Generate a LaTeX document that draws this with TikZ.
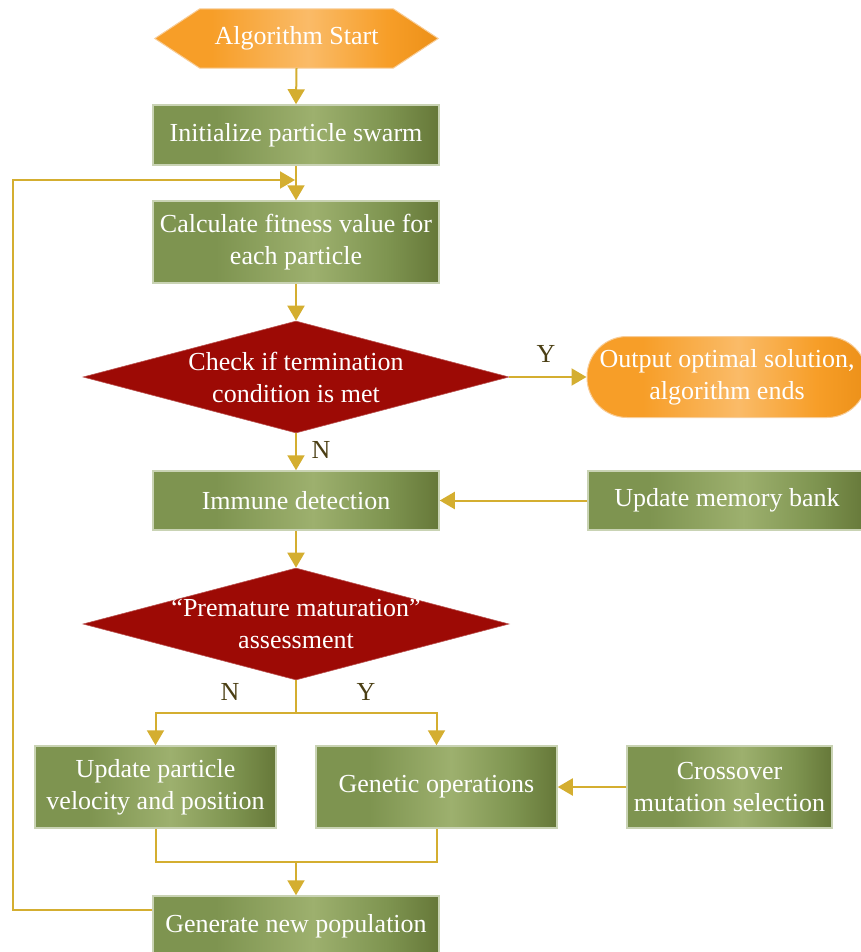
\documentclass[tikz,border=0pt]{standalone}
\usepackage{fontspec}
\setmainfont{Liberation Serif}
\usetikzlibrary{arrows.meta,shapes.geometric,backgrounds}
\definecolor{arr}{HTML}{D4AE30}
\definecolor{gA}{HTML}{7E9450}
\definecolor{gB}{HTML}{9DB06E}
\definecolor{gC}{HTML}{667839}
\definecolor{gE}{HTML}{C9D3B4}
\definecolor{oA}{HTML}{F79E28}
\definecolor{oB}{HTML}{FABB68}
\definecolor{oC}{HTML}{EC9018}
\definecolor{oE}{HTML}{F8CD98}
\definecolor{dred}{HTML}{9D0A05}
\definecolor{lab}{HTML}{4B3F14}
\pgfdeclarehorizontalshading{gshade}{100bp}{color(0bp)=(gA); color(25bp)=(gA); color(36bp)=(gA); color(53bp)=(gB); color(66bp)=(gA); color(75bp)=(gC); color(100bp)=(gC)}
\pgfdeclarehorizontalshading{oshade}{100bp}{color(0bp)=(oA); color(25bp)=(oA); color(35bp)=(oA); color(52bp)=(oB); color(66bp)=(oA); color(75bp)=(oC); color(100bp)=(oC)}
\tikzset{
  txt/.style={text=white, font=\fontsize{26}{32}\selectfont, align=center, inner sep=0pt},
  gbox/.style={txt, rectangle, shading=gshade, draw=gE, line width=1.5pt},
  dia/.style={diamond, fill=dred, draw=dred!70!white, line width=0.6pt, inner sep=0pt, minimum width=426pt, minimum height=112pt},
  arrow/.style={draw=arr, line width=2pt, -{Triangle[width=17pt,length=15pt]}},
  plain/.style={draw=arr, line width=2pt},
  lbl/.style={text=lab, font=\fontsize{26}{32}\selectfont, inner sep=0pt}
}
\begin{document}
\begin{tikzpicture}[x=1pt,y=-1pt]
\useasboundingbox (0,0) rectangle (861,952);
% start hexagon
\node[txt, minimum width=283pt, minimum height=59pt] (start) at (296.5,38.5) {Algorithm Start};
\begin{scope}[on background layer]
\path[shading=oshade, draw=oE, line width=1pt] (start.west) -- ([xshift=45pt]start.north west) -- ([xshift=-45pt]start.north east) -- (start.east) -- ([xshift=-45pt]start.south east) -- ([xshift=45pt]start.south west) -- cycle;
\end{scope}
\node[gbox, minimum width=286pt, minimum height=60pt] (init) at (296,135) {Initialize particle swarm};
\node[gbox, minimum width=286pt, minimum height=82pt] (calc) at (296,242) {Calculate fitness value for\\each particle};
\node[dia] (d1) at (296,377) {};
\node[txt] at (d1) {Check if termination\\condition is met};
\node[txt, rectangle, rounded corners=40pt, shading=oshade, draw=oE, line width=1pt, minimum width=280pt, minimum height=81pt] (out) at (727,377) {Output optimal solution,\\algorithm ends};
\node[gbox, minimum width=286pt, minimum height=59pt] (imm) at (296,500.5) {Immune detection};
\node[gbox, minimum width=278pt, minimum height=59pt] (mem) at (727,500.5) {Update memory bank};
\node[dia] (d2) at (296,624) {};
\node[txt] at (d2) {“Premature maturation”\\assessment};
\node[gbox, minimum width=241pt, minimum height=82pt] (upd) at (155.5,787) {Update particle\\velocity and position};
\node[gbox, minimum width=241pt, minimum height=82pt] (gen) at (436.5,787) {Genetic operations};
\node[gbox, minimum width=205pt, minimum height=82pt] (cross) at (729.5,787) {Crossover\\mutation selection};
\node[gbox, minimum width=286pt, minimum height=60pt] (newp) at (296,926) {Generate new population};
% connectors
\coordinate (lp) at (295,180);
\coordinate (br) at (296,713);
\coordinate (mg) at (296,862);
\draw[arrow] (start.south) -- (init.north);
\draw[arrow] (init.south) -- (calc.north);
\draw[arrow] ([yshift=16pt]newp.west) -- ++(-139,0) |- (lp);
\draw[arrow] (calc.south) -- (d1.north);
\draw[arrow] (d1.east) -- (out.west);
\draw[arrow] (d1.south) -- (imm.north);
\draw[arrow] (mem.west) -- (imm.east);
\draw[arrow] (imm.south) -- (d2.north);
\draw[plain] (d2.south) -- (br);
\draw[arrow] (br) -| (upd.north);
\draw[arrow] (br) -| (gen.north);
\draw[arrow] (cross.west) -- (gen.east);
\draw[plain] (upd.south) |- (mg) -| (gen.south);
\draw[arrow] (mg) -- (newp.north);
% labels
\node[lbl] (ly1) at (546,354) {Y};
\node[lbl] (ln1) at (321,450) {N};
\node[lbl] (ln2) at (230,692) {N};
\node[lbl] (ly2) at (366,692) {Y};
\end{tikzpicture}
\end{document}
